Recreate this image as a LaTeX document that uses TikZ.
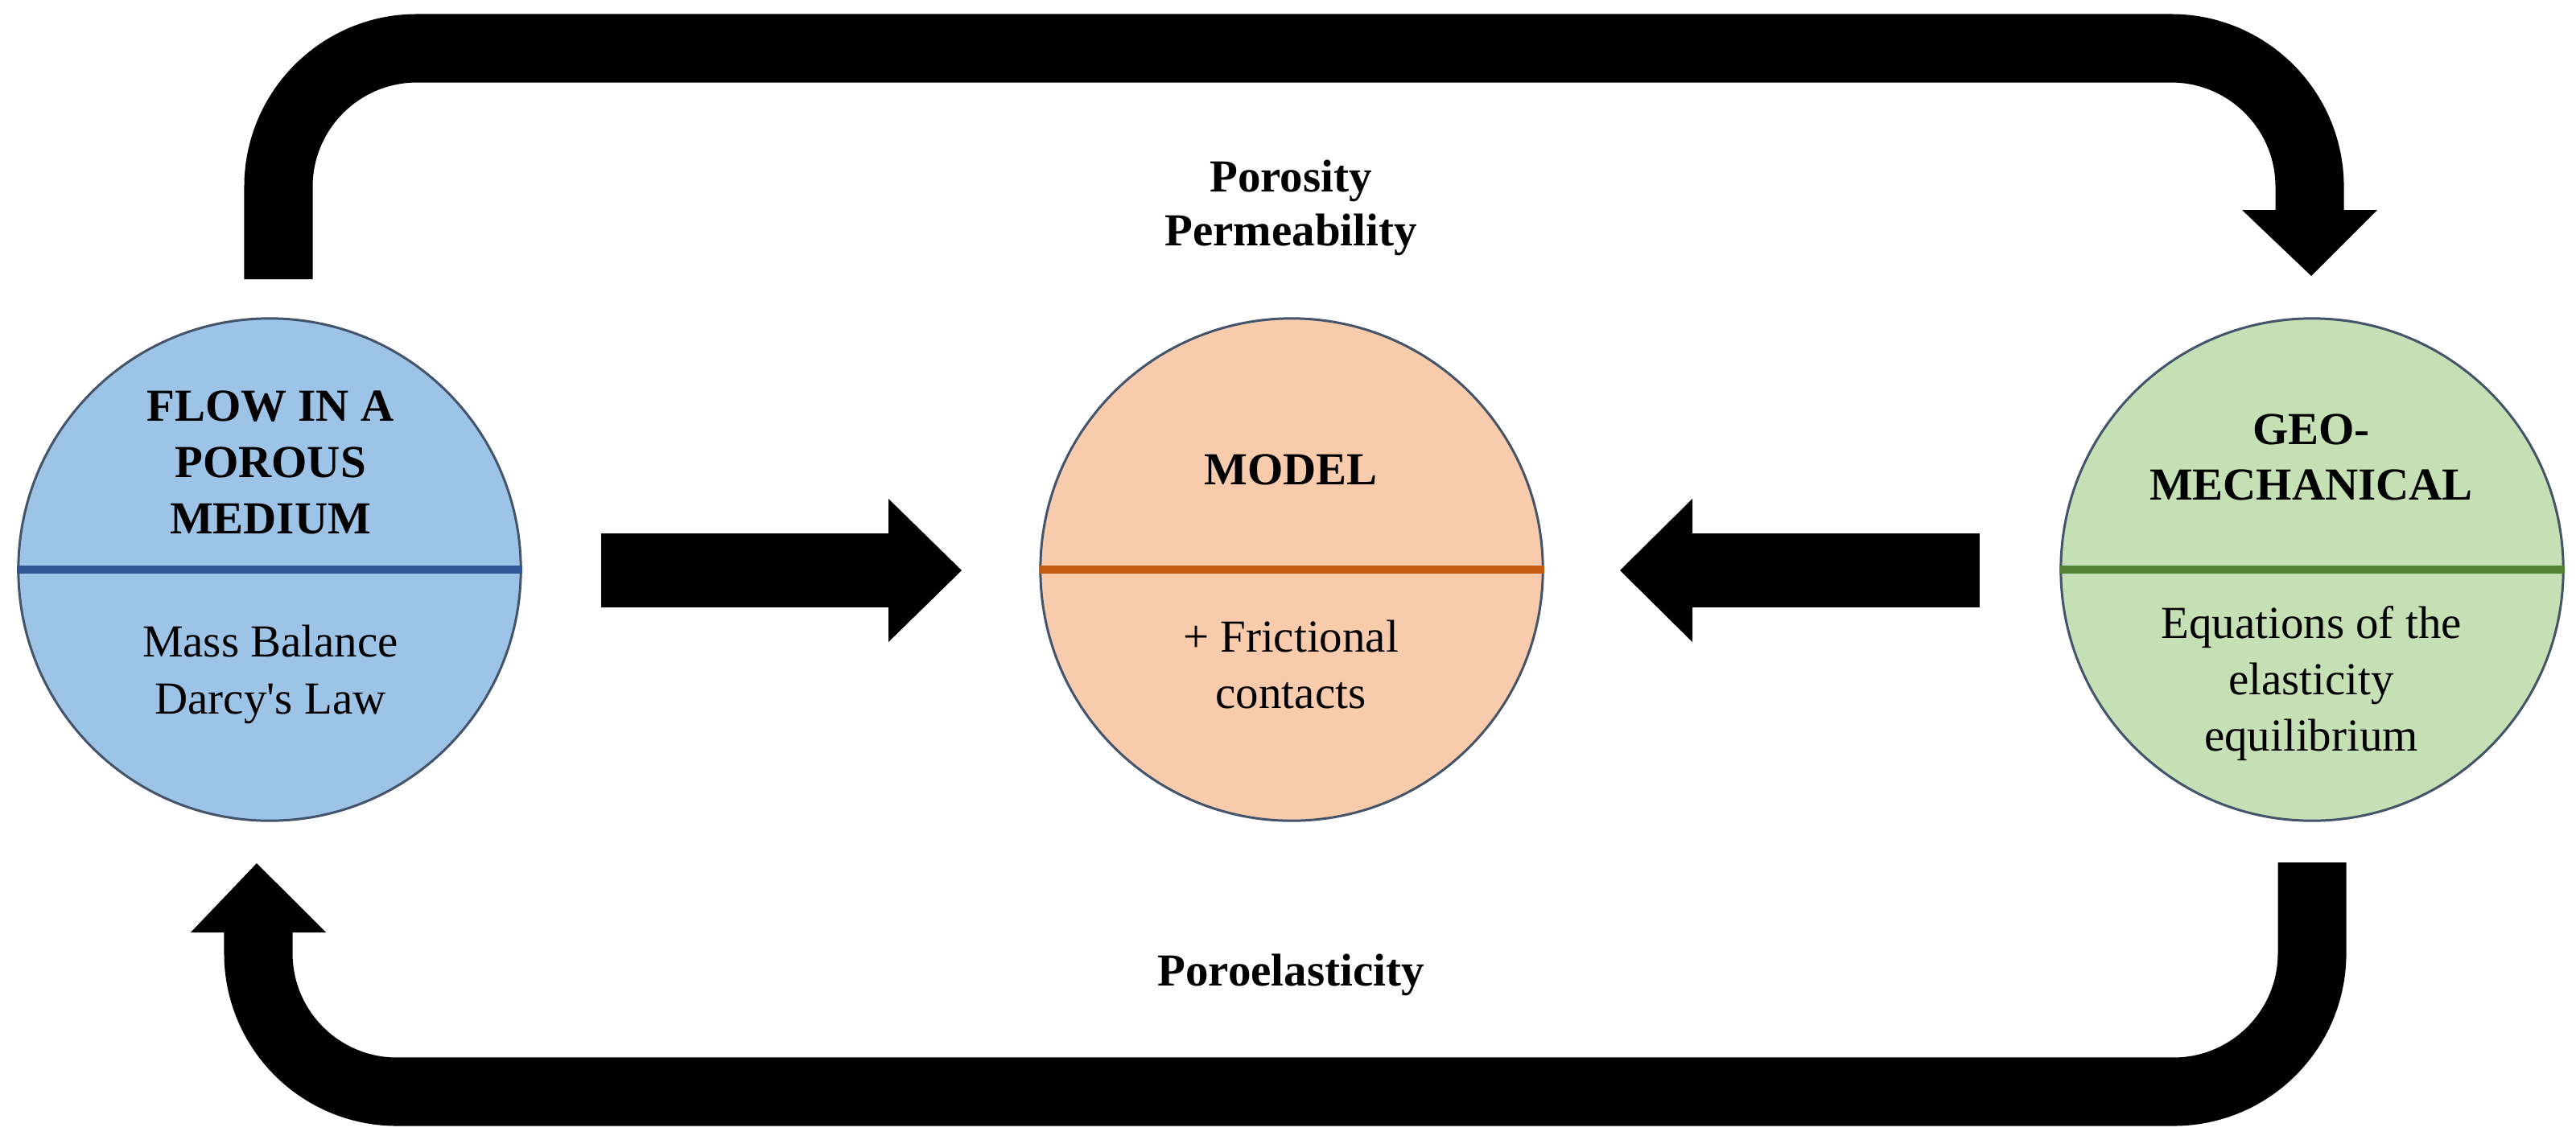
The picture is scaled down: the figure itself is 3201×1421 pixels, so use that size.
\documentclass[tikz,border=0pt]{standalone}
\usepackage{fontspec}
\setmainfont{Liberation Serif}[Ligatures=TeXOff]
\definecolor{flowFill}{HTML}{9DC3E6}
\definecolor{flowLine}{HTML}{2F5597}
\definecolor{modelFill}{HTML}{F8CBAD}
\definecolor{modelLine}{HTML}{C55A11}
\definecolor{geoFill}{HTML}{C5E0B4}
\definecolor{geoLine}{HTML}{548235}
\definecolor{circEdge}{HTML}{44546A}
\begin{document}
\begin{tikzpicture}[x=0.01cm,y=-0.01cm,
  bubble/.style={circle, draw=circEdge, line width=0.03cm, minimum size=6.24cm, inner sep=0pt},
  divider/.style={line width=0.1cm},
  txt/.style={anchor=base, inner sep=0pt, font=\fontsize{16.2}{19.8}\selectfont},
  btxt/.style={anchor=base, inner sep=0pt, font=\fontsize{16.2}{19.8}\selectfont\bfseries},
  band/.style={line width=0.85cm, line cap=butt, rounded corners=1.72cm, black},
  shaft/.style={line width=0.91cm, line cap=butt, black},
  head/.style={fill=black}]
\useasboundingbox (0,0) rectangle (3201,1421);
\fill[white] (0,0) rectangle (3201,1421);

% circles
\node[bubble, fill=flowFill] (flow) at (335,708) {};
\node[bubble, fill=modelFill] (model) at (1605,708) {};
\node[bubble, fill=geoFill] (geo) at (2873,708) {};
\draw[divider, flowLine] (flow.west) -- (flow.east);
\draw[divider, modelLine] (model.west) -- (model.east);
\draw[divider, geoLine] (geo.west) -- (geo.east);

% texts in circles
\node[btxt] (f1) at (336,523) {FLOW IN A};
\node[btxt] (f2) at (336,593) {POROUS};
\node[btxt] (f3) at (336,663) {MEDIUM};
\node[txt] (f4) at (336,816) {Mass Balance};
\node[txt] (f5) at (336,887) {Darcy's Law};

\node[btxt] (m1) at (1604,602) {MODEL};
\node[txt] (m2) at (1604,810) {+ Frictional};
\node[txt] (m3) at (1604,880) {contacts};

\node[btxt] (g1) at (2872,552) {GEO-};
\node[btxt] (g2) at (2872,621) {MECHANICAL};
\node[txt] (g3) at (2872,793) {Equations of the};
\node[txt] (g4) at (2872,863) {elasticity};
\node[txt] (g5) at (2872,933) {equilibrium};

% labels
\node[btxt] (l1) at (1604,238) {Porosity};
\node[btxt] (l2) at (1604,305) {Permeability};
\node[btxt] (l3) at (1604,1225) {Poroelasticity};

% top arrow: flow -> geo
\coordinate (tA) at (346,347);
\coordinate (tB) at (346,60);
\coordinate (tC) at (2870,60);
\coordinate (tD) at (2870,261);
\coordinate (tTip) at (2872,343);
\draw[band] (tA) -- (tB) -- (tC) -- (tD);
\fill[head] ([xshift=-0.84cm]tD) -- ([xshift=0.84cm]tD) -- (tTip) -- cycle;

% bottom arrow: geo -> flow
\coordinate (bA) at (2873,1072);
\coordinate (bB) at (2873,1357);
\coordinate (bC) at (321,1357);
\coordinate (bD) at (321,1159);
\coordinate (bTip) at (319,1073);
\draw[band] (bA) -- (bB) -- (bC) -- (bD);
\fill[head] ([xshift=-0.84cm]bD) -- ([xshift=0.84cm]bD) -- (bTip) -- cycle;

% horizontal arrow: flow -> model
\coordinate (hA) at (747,709);
\coordinate (hB) at (1104,709);
\coordinate (hTip) at (1195,709);
\draw[shaft] (hA) -- (hB);
\fill[head] ([yshift=0.89cm]hB) -- ([yshift=-0.89cm]hB) -- (hTip) -- cycle;

% horizontal arrow: geo -> model
\coordinate (gA) at (2460,709);
\coordinate (gB) at (2103,709);
\coordinate (gTip) at (2013,709);
\draw[shaft] (gA) -- (gB);
\fill[head] ([yshift=0.89cm]gB) -- ([yshift=-0.89cm]gB) -- (gTip) -- cycle;
\end{tikzpicture}
\end{document}
